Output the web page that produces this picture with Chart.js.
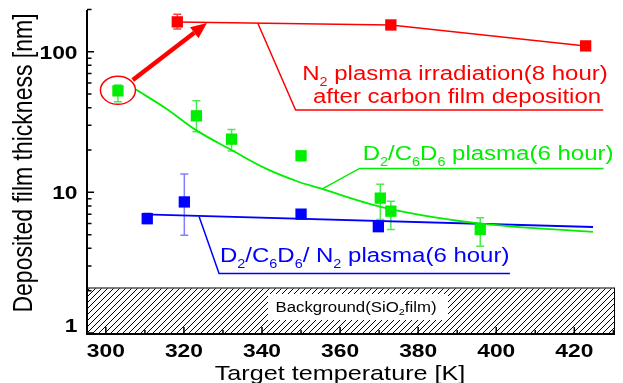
<!DOCTYPE html>
<html><head><meta charset="utf-8">
<script src="https://cdn.jsdelivr.net/npm/chart.js@4/dist/chart.umd.min.js"></script>
<style>html,body{margin:0;padding:0;background:#fff}canvas{display:block}</style>
</head><body>
<canvas id="c" width="623" height="383"></canvas>
<script>
// ---------- data ----------
const redX = [318.3, 373.0, 422.9];
const redY = [163, 155, 110];
const redLow = [145, null, null];
const redHigh = [185, null, null];

const greenX = [303.1, 323.2, 332.2, 350.0, 370.3, 373.0, 395.9];
const greenY = [52.7, 35, 23.9, 18.2, 9.1, 7.35, 5.45];
const greenLow = [44, 27, 19.7, 17.2, 6.4, 5.45, 4.14];
const greenHigh = [58, 44.8, 28, 19.4, 11.4, 8.65, 6.6];

const blueX = [310.6, 320.1, 350.0, 369.8];
const blueY = [6.5, 8.55, 7.0, 5.7];
const blueLow = [6.0, 4.95, 6.75, 5.45];
const blueHigh = [7.1, 13.5, 7.3, 6.0];

// fitted curves
const greenFitX = [307.6, 315.4, 323.1, 332.3, 340.9, 349.3, 354.8, 370.4, 395.1, 424.8];
const greenFitY = [54, 39.5, 27.7, 19.9, 14.8, 11.9, 10.7, 7.9, 6.04, 5.24];
const blueFitX = [309.9, 424.8];
const blueFitY = [6.97, 5.67];

// background (SiO2 film) band
const bgX = [295.17, 430.42];
const bgTop = 2.09;

// ticks
const xTickLabels = [300, 320, 340, 360, 380, 400, 420];
const xMinorTicks = [310, 330, 350, 370, 390, 410, 430];
const yTickLabels = [1, 10, 100];
const yMinorTicks = [2,3,4,5,6,7,8,9,20,30,40,50,60,70,80,90,200];

const xTitle = 'Target temperature [K]';
const yTitle = 'Deposited film thickness [nm]';
const redLabel1 = 'N_2 plasma irradiation(8 hour)';
const redLabel2 = 'after carbon film deposition';
const greenLabel = 'D_2/C_6D_6 plasma(6 hour)';
const blueLabel = 'D_2/C_6D_6/ N_2 plasma(6 hour)';
const bgLabel = 'Background(SiO_2film)';

// ---------- style ----------
const RED = '#ff0000', GREEN = '#00ee00', BLUE = '#0000ff';
const FONT = '"Liberation Sans", Arial, sans-serif';
const SX = 1.2; // horizontal stretch of the original figure's text

const pts = (xs, ys) => xs.map((x, i) => ({x, y: ys[i]}));

function parseRich(str) {
  const segs = [];
  let buf = '';
  for (let i = 0; i < str.length; i++) {
    if (str[i] === '_') { if (buf) segs.push({t: buf}); buf=''; segs.push({t: str[i+1], sub: true}); i++; }
    else buf += str[i];
  }
  if (buf) segs.push({t: buf});
  return segs;
}
function drawRich(ctx, str, x, y, size, color, align, bold) {
  const segs = parseRich(str);
  ctx.save();
  ctx.translate(x, y); ctx.scale(SX, 1);
  ctx.fillStyle = color; ctx.textBaseline = 'alphabetic'; ctx.textAlign = 'left';
  const f = s => (bold ? 'bold ' : '') + (s.sub ? Math.round(size*0.62) : size) + 'px ' + FONT;
  let w = 0;
  for (const s of segs) { ctx.font = f(s); w += ctx.measureText(s.t).width; }
  let cx = align === 'center' ? -w/2 : align === 'right' ? -w : 0;
  for (const s of segs) { ctx.font = f(s); ctx.fillText(s.t, cx, s.sub ? size*0.28 : 0); cx += ctx.measureText(s.t).width; }
  ctx.restore();
  return w * SX;
}

function hatchPattern() {
  const c = document.createElement('canvas');
  c.width = 6; c.height = 6;
  const g = c.getContext('2d');
  g.strokeStyle = '#000'; g.lineWidth = 1;
  g.beginPath(); g.moveTo(-1, 7); g.lineTo(7, -1); g.stroke();
  g.beginPath(); g.moveTo(-1, 1); g.lineTo(1, -1); g.stroke();
  g.beginPath(); g.moveTo(5, 7); g.lineTo(7, 5); g.stroke();
  return document.getElementById('c').getContext('2d').createPattern(c, 'repeat');
}

const errorBars = {
  id: 'errorBars',
  beforeDatasetsDraw(chart) {
    const ctx = chart.ctx, xs = chart.scales.x, ys = chart.scales.y;
    const sets = [[redX, redLow, redHigh, 'rgba(255,0,0,0.75)'],
                  [greenX, greenLow, greenHigh, 'rgba(0,225,0,0.7)'],
                  [blueX, blueLow, blueHigh, 'rgba(60,60,255,0.65)']];
    ctx.save(); ctx.lineWidth = 1.5;
    for (const [X, L, H, col] of sets) {
      ctx.strokeStyle = col;
      X.forEach((x, i) => {
        if (L[i] == null) return;
        const px = xs.getPixelForValue(x), p1 = ys.getPixelForValue(L[i]), p2 = ys.getPixelForValue(H[i]);
        ctx.beginPath();
        ctx.moveTo(px, p1); ctx.lineTo(px, p2);
        ctx.moveTo(px-4, p1); ctx.lineTo(px+4, p1);
        ctx.moveTo(px-4, p2); ctx.lineTo(px+4, p2);
        ctx.stroke();
      });
    }
    ctx.restore();
  }
};

const decorations = {
  id: 'decorations',
  afterDraw(chart) {
    const ctx = chart.ctx, xs = chart.scales.x, ys = chart.scales.y, a = chart.chartArea;
    const P = (x, y) => [xs.getPixelForValue(x), ys.getPixelForValue(y)];
    ctx.save();
    // background band right border
    ctx.strokeStyle = '#000'; ctx.lineWidth = 1;
    const [bx2, by1] = P(bgX[1], bgTop);
    ctx.beginPath(); ctx.moveTo(a.right - 0.5, by1); ctx.lineTo(a.right - 0.5, a.bottom); ctx.stroke();
    // background label box
    ctx.fillStyle = '#fff'; ctx.fillRect(268, 294, 180, 26);
    drawRich(ctx, bgLabel, 275.5, 311.5, 14, '#000', 'left');

    // axes
    ctx.strokeStyle = '#000'; ctx.lineWidth = 2;
    ctx.beginPath(); ctx.moveTo(a.left, a.top); ctx.lineTo(a.left, a.bottom + 1); ctx.lineTo(a.right, a.bottom + 1); ctx.stroke();
    ctx.lineWidth = 1.5;
    ctx.beginPath();
    for (const v of yTickLabels) { const y = ys.getPixelForValue(v); ctx.moveTo(a.left, y); ctx.lineTo(a.left + 7, y); }
    for (const v of yMinorTicks) { const y = ys.getPixelForValue(v); ctx.moveTo(a.left, y); ctx.lineTo(a.left + 4.5, y); }
    for (const v of xTickLabels) { const x = xs.getPixelForValue(v); ctx.moveTo(x, a.bottom); ctx.lineTo(x, a.bottom - 6); }
    for (const v of xMinorTicks) { const x = xs.getPixelForValue(v); ctx.moveTo(x, a.bottom); ctx.lineTo(x, a.bottom - 3); }
    ctx.stroke();

    // tick labels
    for (const v of xTickLabels) drawRich(ctx, String(v), xs.getPixelForValue(v), 357, 19, '#000', 'center', true);
    for (const v of yTickLabels) {
      const y = ys.getPixelForValue(v) + 7 - (v === 1 ? 8 : 0);
      drawRich(ctx, String(v), 77.5, y, 19, '#000', 'right', true);
    }
    // axis titles
    drawRich(ctx, xTitle, 340, 380, 21, '#000', 'center');
    ctx.save();
    ctx.translate(31.5, 163); ctx.scale(SX, 1); ctx.rotate(-Math.PI/2);
    ctx.font = '23px ' + FONT; ctx.fillStyle = '#000'; ctx.textAlign = 'center'; ctx.textBaseline = 'alphabetic';
    ctx.fillText(yTitle, 0, 0);
    ctx.restore();

    // callout lines
    const poly = (col, arr) => {
      ctx.strokeStyle = col; ctx.lineWidth = 1.5; ctx.beginPath();
      arr.forEach(([x, y], i) => { const [px, py] = P(x, y); i ? ctx.lineTo(px, py) : ctx.moveTo(px, py); });
      ctx.stroke();
    };
    poly(RED, [[338.9, 160], [348.6, 38.5], [427.4, 38.5]]);
    poly(GREEN, [[355.2, 10.5], [365.0, 14.8], [427.5, 14.8]]);
    poly(BLUE, [[323.9, 6.7], [329.0, 2.65], [403.5, 2.65]]);

    // labels
    drawRich(ctx, redLabel1, 455, 80, 20, RED, 'center');
    drawRich(ctx, redLabel2, 457, 103, 20, RED, 'center');
    drawRich(ctx, greenLabel, 362.7, 160, 20, GREEN, 'left');
    drawRich(ctx, blueLabel, 220, 262, 20, BLUE, 'left');

    // ellipse around first deposition point
    const [ex, ey] = P(greenX[0], greenY[0]);
    ctx.strokeStyle = RED; ctx.lineWidth = 1.5;
    ctx.beginPath(); ctx.ellipse(ex, ey - 0.5, 17.5, 14, 0, 0, Math.PI * 2); ctx.stroke();

    // arrow
    const [ax1, ay1] = P(306.9, 63), [ax2, ay2] = P(325.9, 160);
    const ang = Math.atan2(ay2 - ay1, ax2 - ax1), hl = 16, hw = 7;
    const bx = ax2 - hl * Math.cos(ang), byy = ay2 - hl * Math.sin(ang);
    ctx.lineWidth = 4.5; ctx.lineCap = 'butt';
    ctx.beginPath(); ctx.moveTo(ax1, ay1); ctx.lineTo(bx, byy); ctx.stroke();
    ctx.fillStyle = RED; ctx.beginPath();
    ctx.moveTo(ax2, ay2);
    ctx.lineTo(bx + hw * Math.sin(ang), byy - hw * Math.cos(ang));
    ctx.lineTo(bx - hw * Math.sin(ang), byy + hw * Math.cos(ang));
    ctx.closePath(); ctx.fill();
    ctx.restore();
  }
};

new Chart(document.getElementById('c'), {
  type: 'scatter',
  data: {
    datasets: [
      { label: 'N2 irradiation', data: pts(redX, redY), showLine: true, borderColor: RED, backgroundColor: RED, borderWidth: 1.5,
        pointStyle: 'rect', pointRadius: 8, pointBorderWidth: 0, order: 0 },
      { label: 'D2/C6D6', data: pts(greenX, greenY), showLine: false, backgroundColor: GREEN, borderColor: GREEN,
        pointStyle: 'rect', pointRadius: 8, pointBorderWidth: 0, order: 0 },
      { label: 'D2/C6D6/N2', data: pts(blueX, blueY), showLine: false, backgroundColor: BLUE, borderColor: BLUE,
        pointStyle: 'rect', pointRadius: 8, pointBorderWidth: 0, order: 0 },
      { label: 'green fit', data: pts(greenFitX, greenFitY), showLine: true, borderColor: GREEN, borderWidth: 1.8,
        pointRadius: 0, cubicInterpolationMode: 'monotone', order: 1 },
      { label: 'blue fit', data: pts(blueFitX, blueFitY), showLine: true, borderColor: BLUE, borderWidth: 1.8,
        pointRadius: 0, order: 1 },
      { label: 'background', data: pts(bgX, [bgTop, bgTop]), showLine: true, borderColor: '#555', borderWidth: 1.5,
        backgroundColor: hatchPattern(), fill: 'start', pointRadius: 0, order: 2 }
    ]
  },
  options: {
    responsive: false, animation: false, devicePixelRatio: 1,
    layout: { padding: { left: 87, right: 4, top: 10, bottom: 50 } },
    plugins: { legend: { display: false }, tooltip: { enabled: false } },
    scales: {
      x: { type: 'linear', min: 295.17, max: 430.42, display: false },
      y: { type: 'logarithmic', min: 1, max: 198, display: false }
    }
  },
  plugins: [errorBars, decorations]
});
</script>
</body></html>
